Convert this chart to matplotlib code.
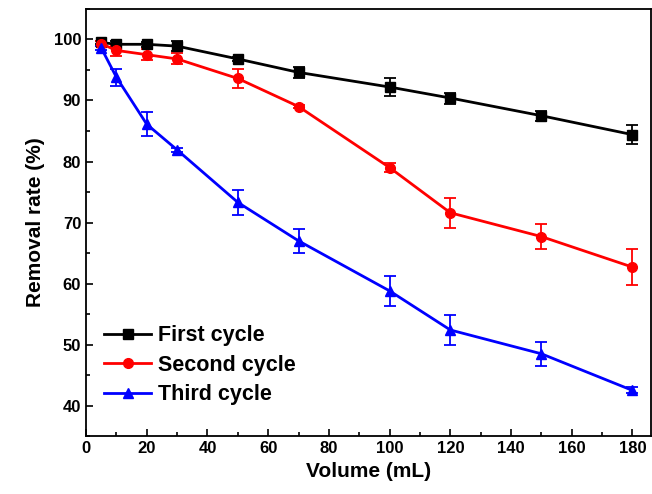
import matplotlib.pyplot as plt
from matplotlib.lines import Line2D
from matplotlib.ticker import MultipleLocator

plt.rcParams['font.family'] = ['Liberation Sans', 'DejaVu Sans']
plt.rcParams['font.weight'] = 'bold'

volume = [5, 10, 20, 30, 50, 70, 100, 120, 150, 180]

first = [99.5, 99.2, 99.2, 98.9, 96.8, 94.6, 92.2, 90.4, 87.5, 84.4]
first_err = [0.3, 0.5, 0.4, 0.8, 0.4, 0.9, 1.5, 0.9, 0.8, 1.5]

second = [99.3, 98.2, 97.5, 96.8, 93.6, 89.0, 79.0, 71.6, 67.7, 62.7]
second_err = [0.4, 0.9, 0.9, 0.9, 1.5, 0.3, 0.8, 2.5, 2.0, 3.0]

third = [98.6, 93.8, 86.1, 81.9, 73.3, 67.0, 58.8, 52.4, 48.5, 42.5]
third_err = [0.3, 1.4, 2.0, 0.3, 2.0, 2.0, 2.5, 2.5, 2.0, 0.5]

labels = ['First cycle', 'Second cycle', 'Third cycle']
colors = ['black', 'red', 'blue']
markers = ['s', 'o', '^']

fig = plt.figure(figsize=(6.52, 4.94), dpi=100)
ax = fig.add_axes([0.132, 0.117, 0.866, 0.865])

handles = []
for y, err, lab, c, m in zip([first, second, third],
                             [first_err, second_err, third_err],
                             labels, colors, markers):
    ax.errorbar(volume, y, yerr=err, color=c, marker=m, markersize=7,
                linewidth=2, capsize=4, elinewidth=1.3, capthick=1.3)
    handles.append(Line2D([], [], color=c, marker=m, markersize=7,
                          linewidth=2, label=lab))

ax.set_xlim(0, 186)
ax.set_ylim(35, 105)
ax.xaxis.set_major_locator(MultipleLocator(20))
ax.xaxis.set_minor_locator(MultipleLocator(10))
ax.yaxis.set_minor_locator(MultipleLocator(5))
ax.set_yticks([40, 50, 60, 70, 80, 90, 100])
ax.tick_params(which='both', direction='in', width=1.2, labelsize=12)
ax.tick_params(which='major', length=5)
ax.tick_params(which='minor', length=3)
for s in ax.spines.values():
    s.set_linewidth(1.3)

ax.set_xlabel('Volume (mL)', fontsize=15, fontweight='bold', labelpad=4)
ax.set_ylabel('Removal rate (%)', fontsize=15, fontweight='bold', labelpad=6)

ax.legend(handles=handles, loc='lower left', bbox_to_anchor=(0.005, 0.037),
          frameon=False, fontsize=15.5, handlelength=2.2, handletextpad=0.3,
          labelspacing=0.4, borderaxespad=0.3)

fig.savefig('out.png', dpi=100)
